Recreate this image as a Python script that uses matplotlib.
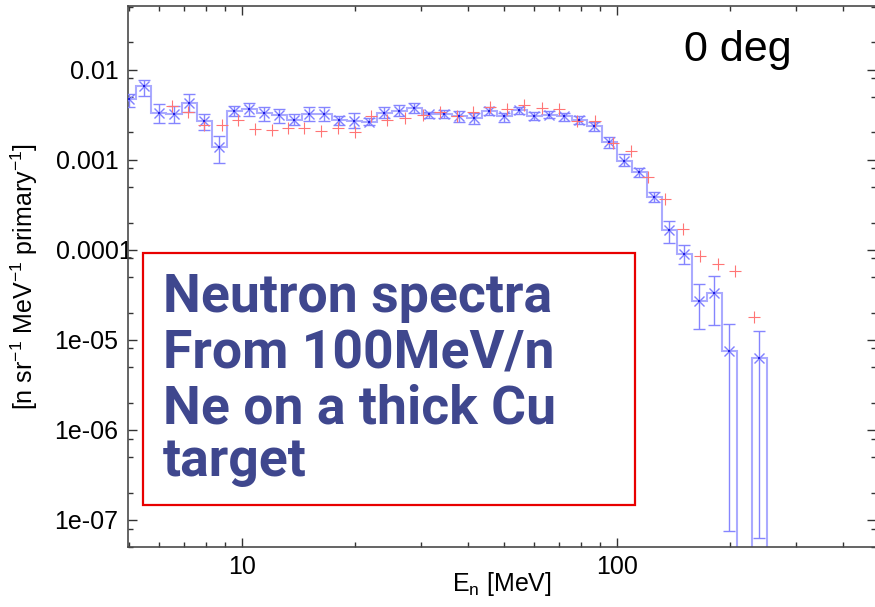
import numpy as np
import matplotlib
matplotlib.use("Agg")
import matplotlib.pyplot as plt
from matplotlib.ticker import LogLocator, FuncFormatter, NullFormatter
from matplotlib.patches import Rectangle
from matplotlib.transforms import ScaledTranslation

plt.rcParams['font.family'] = ['Liberation Sans', 'DejaVu Sans']
plt.rcParams['mathtext.fontset'] = 'custom'
plt.rcParams['mathtext.rm'] = 'Liberation Sans'
plt.rcParams['mathtext.it'] = 'Liberation Sans:italic'
plt.rcParams['mathtext.default'] = 'regular'

# ---- data: calculated spectrum (histogram, blue) ----
blue_E = [5.00, 5.48, 6.01, 6.59, 7.23, 7.93, 8.69, 9.53, 10.45, 11.46, 12.56,
          13.77, 15.10, 16.56, 18.16, 19.91, 21.83, 23.93, 26.24, 28.77, 31.55,
          34.59, 37.93, 41.59, 45.60, 50.00, 54.83, 60.12, 65.92, 72.28, 79.25,
          86.90, 95.28, 104.5, 114.6, 125.6, 137.7, 151.0, 165.6, 181.6, 199.1,
          218.3, 239.3, 262.4]
blue_y = [4.76e-3, 6.48e-3, 3.33e-3, 3.24e-3, 4.30e-3, 2.71e-3, 1.39e-3, 3.50e-3,
          3.69e-3, 3.33e-3, 3.16e-3, 2.78e-3, 3.24e-3, 3.24e-3, 2.78e-3, 2.71e-3,
          2.64e-3, 3.33e-3, 3.50e-3, 3.78e-3, 3.24e-3, 3.24e-3, 3.08e-3, 2.93e-3,
          3.50e-3, 3.01e-3, 3.59e-3, 3.08e-3, 3.16e-3, 3.01e-3, 2.78e-3, 2.33e-3,
          1.55e-3, 9.75e-4, 7.36e-4, 3.88e-4, 1.67e-4, 9.03e-5, 2.71e-5, 3.33e-5,
          7.55e-6, 0, 6.31e-6, 0]
blue_lo = [3.88e-3, 5.14e-3, 2.58e-3, 2.58e-3, 3.41e-3, 2.15e-3, 9.26e-4, 3.01e-3,
           3.08e-3, 2.71e-3, 2.58e-3, 2.39e-3, 2.71e-3, 2.71e-3, 2.45e-3, 2.27e-3,
           2.39e-3, 2.86e-3, 3.01e-3, 3.33e-3, 2.93e-3, 2.93e-3, 2.64e-3, 2.51e-3,
           3.16e-3, 2.64e-3, 3.24e-3, 2.78e-3, 2.86e-3, 2.71e-3, 2.51e-3, 2.10e-3,
           1.36e-3, 8.58e-4, 6.47e-4, 3.41e-4, 1.20e-4, 6.99e-5, 1.32e-5, 1.47e-5,
           7.55e-8, 0, 6.31e-8, 0]
blue_hi = [5.28e-3, 7.55e-3, 4.19e-3, 3.98e-3, 5.28e-3, 3.24e-3, 1.85e-3, 3.98e-3,
           4.30e-3, 3.88e-3, 3.69e-3, 3.24e-3, 3.88e-3, 3.88e-3, 3.01e-3, 3.33e-3,
           2.93e-3, 3.88e-3, 4.08e-3, 4.30e-3, 3.41e-3, 3.59e-3, 3.50e-3, 3.33e-3,
           3.88e-3, 3.33e-3, 3.88e-3, 3.41e-3, 3.50e-3, 3.33e-3, 3.01e-3, 2.64e-3,
           1.76e-3, 1.14e-3, 8.15e-4, 4.41e-4, 2.10e-4, 1.14e-4, 4.19e-5, 5.14e-5,
           1.51e-5, 0, 1.26e-5, 0]

# ---- data: measured points (red +) ----
red_E = [6.51, 7.18, 7.92, 8.84, 9.76, 10.83, 12.02, 13.27, 14.63, 16.24, 18.03,
         20.01, 22.08, 24.36, 27.21, 30.39, 33.73, 37.44, 41.30, 45.85, 50.89,
         56.49, 63.10, 70.02, 78.22, 87.36, 97.57, 109.0, 121.0, 134.3, 150.0,
         166.5, 185.9, 206.4, 231.9]
red_y = [3.98e-3, 3.41e-3, 2.45e-3, 2.39e-3, 2.78e-3, 2.21e-3, 2.15e-3, 2.27e-3,
         2.27e-3, 2.10e-3, 2.27e-3, 2.00e-3, 3.01e-3, 2.78e-3, 2.86e-3, 3.16e-3,
         3.41e-3, 3.01e-3, 3.41e-3, 3.88e-3, 3.69e-3, 4.08e-3, 3.78e-3, 3.69e-3,
         2.71e-3, 2.71e-3, 1.51e-3, 1.23e-3, 6.47e-4, 3.69e-4, 1.71e-4, 8.58e-5,
         6.99e-5, 5.85e-5, 1.80e-5]

x_ticklabels = ["10", "100"]
y_ticklabels = ["0.01", "0.001", "0.0001", "1e-05", "1e-06", "1e-07"]

W, H = 875, 607
fig = plt.figure(figsize=(W / 100, H / 100), dpi=100)
ax = fig.add_axes([128 / W, (H - 547) / H, (876 - 128) / W, (547 - 6) / H])

E = np.array(blue_E)
y = np.array(blue_y)
lo = np.array(blue_lo)
hi = np.array(blue_hi)
mid = np.sqrt(E[:-1] * E[1:])
edges = np.concatenate([[E[0] ** 2 / mid[0]], mid, [E[-1] ** 2 / mid[-1]]])
yplot = np.where(y > 0, y, 1e-12)

ax.stairs(yplot, edges, baseline=None, color='#aaaaff', lw=1.5, zorder=2)
m = y > 0
ax.errorbar(E[m], y[m], yerr=[y[m] - lo[m], hi[m] - y[m]], fmt='none',
            ecolor='#8585ff', elinewidth=1.0, capsize=4.5, capthick=1.0, zorder=3)
ax.plot(E[m], y[m], ls='none', marker='x', ms=7, mew=1.0, color='#8080ff', zorder=4)
ax.plot(E[m], y[m], ls='none', marker='s', ms=1.8, mew=0, color='#2020e0', zorder=5)

ax.plot(red_E, red_y, ls='none', marker='+', ms=8, mew=0.8, color='#ff7575', zorder=4)

ax.set_xscale('log')
ax.set_yscale('log')
ax.set_xlim(4.97, 490)
ax.set_ylim(5.0e-8, 0.0507)

ax.xaxis.set_major_locator(LogLocator(base=10, numticks=10))
ax.xaxis.set_minor_locator(LogLocator(base=10, subs=np.arange(2, 10), numticks=20))
ax.yaxis.set_major_locator(LogLocator(base=10, numticks=15))
ax.yaxis.set_minor_locator(LogLocator(base=10, subs=[2, 5, 8], numticks=15))
ax.xaxis.set_major_formatter(FuncFormatter(lambda v, p: x_ticklabels[int(round(np.log10(v))) - 1] if round(np.log10(v)) in (1, 2) else ""))
ax.yaxis.set_major_formatter(FuncFormatter(lambda v, p: y_ticklabels[-2 - int(round(np.log10(v)))] if -7 <= round(np.log10(v)) <= -2 else ""))
ax.xaxis.set_minor_formatter(NullFormatter())
ax.yaxis.set_minor_formatter(NullFormatter())

ax.tick_params(which='both', direction='in', top=True, right=True,
               color='#333333', width=1.0)
ax.tick_params(which='major', length=6.5, labelsize=18)
ax.tick_params(axis='y', which='major', pad=7)
ax.tick_params(axis='x', which='major', pad=6)
ax.tick_params(which='minor', length=3.8)
for s in ax.spines.values():
    s.set_color('#4a4a4a')
    s.set_linewidth(1.2)

ax.set_xlabel('E$_{n}$ [MeV]', fontsize=18)
ax.set_ylabel('[n sr$^{-1}$ MeV$^{-1}$ primary$^{-1}$]', fontsize=18)
ax.xaxis.set_label_coords(0.5, -0.042)
ax.yaxis.set_label_coords(-0.118, 0.5)

fig.text(684 / W, (H - 61) / H, '0 deg', fontsize=31, color='black',
         ha='left', va='baseline')

fig.add_artist(Rectangle((143 / W, (H - 505) / H), (635 - 143) / W, (505 - 253) / H,
                         transform=fig.transFigure, fill=False, ec='#e80000', lw=1.6))
lines = ["Neutron spectra", "From 100MeV/n", "Ne on a thick Cu", "target"]
baselines = [312, 368, 424, 476]
for txt, b in zip(lines, baselines):
    fig.text(163 / W, (H - b) / H, txt, fontsize=38.5, fontweight='bold',
             family=['Roboto', 'DejaVu Sans'], color='#3f478e',
             ha='left', va='baseline')

fig.canvas.draw()
for t in ax.yaxis.get_major_ticks():
    if abs(np.log10(t.get_loc()) + 4) < 0.01:
        t.label1.set_transform(t.label1.get_transform() +
                               ScaledTranslation(14 / 100, 0, fig.dpi_scale_trans))

fig.savefig('out.png', dpi=100)
